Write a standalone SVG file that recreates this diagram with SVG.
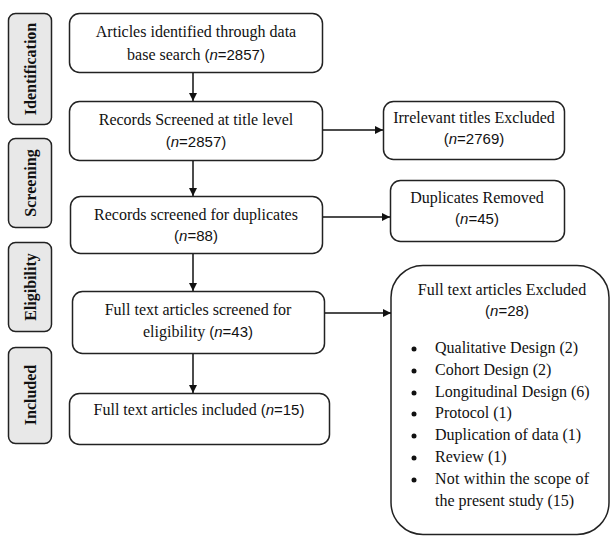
<svg xmlns="http://www.w3.org/2000/svg" width="611" height="537" viewBox="0 0 611 537">
<defs>
<style>
.box{fill:#fff;stroke:#222;stroke-width:1.5}
.side{fill:#e8e8e8;stroke:#222;stroke-width:1.5}
.t{font-family:"Liberation Serif","Times New Roman",serif;font-size:16px;fill:#111;text-anchor:middle}
.tl{font-family:"Liberation Serif","Times New Roman",serif;font-size:16px;fill:#111}
.s{font-family:"Liberation Sans",Arial,sans-serif;font-size:15px}
.i{font-style:italic}
.lab{font-family:"Liberation Serif","Times New Roman",serif;font-size:16px;font-weight:bold;fill:#111;text-anchor:middle}
.c{stroke:#111;stroke-width:1.5;fill:none}
</style>
<marker id="ah" viewBox="0 0 10 10" refX="10" refY="5" markerWidth="8" markerHeight="8" markerUnits="userSpaceOnUse" orient="auto">
<path d="M0,0 L10,5 L0,10 z" fill="#111"/>
</marker>
</defs>

<g id="label-identification">
<rect class="side" x="8.5" y="13.5" width="43" height="111" rx="7"/>
<text class="lab" transform="translate(36,69) rotate(-90)">Identification</text>
</g>
<g id="label-screening">
<rect class="side" x="8.5" y="138.5" width="43" height="89" rx="7"/>
<text class="lab" transform="translate(36,183) rotate(-90)">Screening</text>
</g>
<g id="label-eligibility">
<rect class="side" x="8.5" y="242.5" width="43" height="89" rx="7"/>
<text class="lab" transform="translate(36,287) rotate(-90)">Eligibility</text>
</g>
<g id="label-included">
<rect class="side" x="8.5" y="347.5" width="43" height="96" rx="7"/>
<text class="lab" transform="translate(36,395) rotate(-90)">Included</text>
</g>

<g id="n1">
<rect class="box" x="69.5" y="13.5" width="253" height="59" rx="10"/>
<text class="t" x="196" y="37">Articles identified through data</text>
<text class="t" x="196" y="60">base search <tspan class="s">(<tspan class="i">n</tspan>=2857)</tspan></text>
</g>
<g id="n2">
<rect class="box" x="69.5" y="101.5" width="253" height="59" rx="10"/>
<text class="t" x="196" y="125">Records Screened at title level</text>
<text class="t s" x="196" y="147">(<tspan class="i">n</tspan>=2857)</text>
</g>
<g id="n3">
<rect class="box" x="70.5" y="196.5" width="252" height="57" rx="10"/>
<text class="t" x="196" y="220">Records screened for duplicates</text>
<text class="t s" x="196" y="241">(<tspan class="i">n</tspan>=88)</text>
</g>
<g id="n4">
<rect class="box" x="72.5" y="291.5" width="252" height="62" rx="10"/>
<text class="t" x="198" y="315">Full text articles screened for</text>
<text class="t" x="198" y="337">eligibility <tspan class="s">(<tspan class="i">n</tspan>=43)</tspan></text>
</g>
<g id="n5">
<rect class="box" x="69.5" y="393.5" width="260" height="51" rx="10"/>
<text class="t" x="199" y="415">Full text articles included <tspan class="s">(<tspan class="i">n</tspan>=15)</tspan></text>
</g>
<g id="r1">
<rect class="box" x="383.5" y="101.5" width="181" height="58" rx="10"/>
<text class="t" x="474" y="123">Irrelevant titles Excluded</text>
<text class="t s" x="474" y="144">(<tspan class="i">n</tspan>=2769)</text>
</g>
<g id="r2">
<rect class="box" x="390.5" y="180.5" width="174" height="61" rx="10"/>
<text class="t" x="477" y="203">Duplicates Removed</text>
<text class="t s" x="477" y="224">(<tspan class="i">n</tspan>=45)</text>
</g>
<g id="r3">
<rect class="box" x="391" y="265.5" width="218" height="269" rx="32"/>
<text class="t" x="502" y="295">Full text articles Excluded</text>
<text class="t s" x="507" y="316">(<tspan class="i">n</tspan>=28)</text>
<g>
<circle cx="414" cy="349" r="2.5" fill="#111"/><text class="tl" x="435" y="353">Qualitative Design (2)</text>
<circle cx="414" cy="371" r="2.5" fill="#111"/><text class="tl" x="435" y="375">Cohort Design (2)</text>
<circle cx="414" cy="393" r="2.5" fill="#111"/><text class="tl" x="435" y="397">Longitudinal Design (6)</text>
<circle cx="414" cy="414" r="2.5" fill="#111"/><text class="tl" x="435" y="418">Protocol (1)</text>
<circle cx="414" cy="436" r="2.5" fill="#111"/><text class="tl" x="435" y="440">Duplication of data (1)</text>
<circle cx="414" cy="458" r="2.5" fill="#111"/><text class="tl" x="435" y="462">Review (1)</text>
<circle cx="414" cy="480" r="2.5" fill="#111"/><text class="tl" x="435" y="484" textLength="154" lengthAdjust="spacing">Not within the scope of</text>
<text class="tl" x="435" y="506">the present study (15)</text>
</g>
</g>

<g id="connectors">
<line class="c" x1="193" y1="73" x2="193" y2="101" marker-end="url(#ah)"/>
<line class="c" x1="193" y1="161" x2="193" y2="196" marker-end="url(#ah)"/>
<line class="c" x1="193" y1="254" x2="193" y2="291" marker-end="url(#ah)"/>
<line class="c" x1="193" y1="354" x2="193" y2="393" marker-end="url(#ah)"/>
<line class="c" x1="323" y1="130" x2="383" y2="130" marker-end="url(#ah)"/>
<line class="c" x1="323" y1="217" x2="390" y2="217" marker-end="url(#ah)"/>
<line class="c" x1="325" y1="313" x2="391" y2="313" marker-end="url(#ah)"/>
</g>
</svg>
